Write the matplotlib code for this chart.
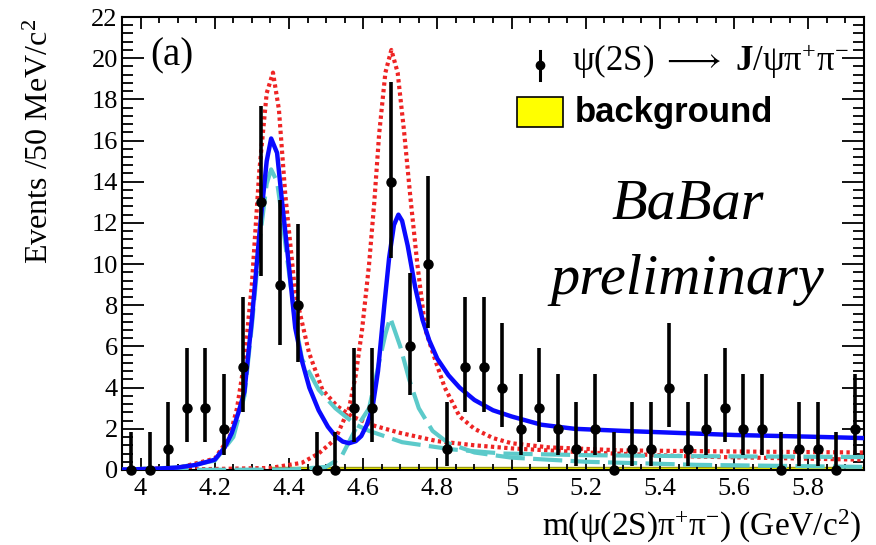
#!/usr/bin/env python3
"""Recreate the BaBar psi(2S) pi+ pi- invariant mass plot (panel a)."""

import matplotlib
matplotlib.use('Agg')
import matplotlib.pyplot as plt
import matplotlib.patches as mpatches
from matplotlib.lines import Line2D
from matplotlib.ticker import MultipleLocator, FuncFormatter

plt.rcParams['font.family'] = ['Liberation Serif', 'DejaVu Serif']
plt.rcParams['mathtext.fontset'] = 'custom'
plt.rcParams['mathtext.rm'] = 'Liberation Serif'
plt.rcParams['mathtext.it'] = 'Liberation Serif:italic'
plt.rcParams['mathtext.bf'] = 'Liberation Serif:bold'

# 50 MeV bins from 3.95 to 5.95 GeV
BIN_LO = 3.95
BIN_W = 0.05
counts = [0, 0, 1, 3, 3, 2, 5, 13, 9, 8,
          0, 0, 3, 3, 14, 6, 10, 1, 5, 5,
          4, 2, 3, 2, 1, 2, 0, 1, 1, 4,
          1, 2, 3, 2, 2, 0, 1, 1, 0, 2]
background = [0, 0, 0, 0, 0, 0, 0, 0, 0.15, 0.15,
              0.15, 0.15, 0.15, 0.15, 0.15, 0.15, 0.15, 0.15, 0.15, 0.15,
              0.15, 0.15, 0.15, 0.15, 0.15, 0.15, 0.15, 0.15, 0.15, 0.15,
              0.15, 0.15, 0.15, 0.15, 0.15, 0.15, 0.15, 0.15, 0.15, 0.15]

# 68% Poisson (Garwood) interval bounds, indexed by bin count
poisson_lo = [0.0, 0.173, 0.708, 1.367, 2.086, 2.840, 3.620, 4.419,
              5.232, 6.057, 6.891, 7.734, 8.585, 9.441, 10.30]
poisson_hi = [1.841, 3.300, 4.638, 5.918, 7.163, 8.382, 9.584, 10.77,
              11.95, 13.11, 14.27, 15.42, 16.56, 17.70, 18.83]

# total fit (blue)
fit_m = [3.95, 4.0, 4.05, 4.1, 4.15, 4.2, 4.227, 4.246, 4.264, 4.28,
         4.30, 4.322, 4.34, 4.352, 4.368, 4.381, 4.40, 4.417, 4.435, 4.455,
         4.48, 4.505, 4.525, 4.545, 4.562, 4.58, 4.595, 4.61, 4.625, 4.64,
         4.657, 4.67, 4.683, 4.695, 4.705, 4.72, 4.74, 4.76, 4.778, 4.8,
         4.83, 4.86, 4.9, 4.95, 5.0, 5.08, 5.17, 5.3, 5.45, 5.6, 5.8, 5.95]
fit_v = [0.02, 0.04, 0.07, 0.12, 0.25, 0.5, 1.1, 1.8, 2.8, 3.8,
         7.3, 11.8, 15.0, 16.1, 15.4, 13.1, 9.9, 6.9, 5.3, 4.0,
         2.9, 2.1, 1.65, 1.38, 1.3, 1.4, 1.65, 2.2, 3.0, 4.8,
         8.0, 10.3, 11.9, 12.4, 12.1, 10.9, 8.9, 7.3, 6.3, 5.4,
         4.6, 4.0, 3.4, 2.9, 2.6, 2.2, 2.0, 1.9, 1.8, 1.7, 1.62, 1.55]

# single resonance without interference (red dotted), Y(4360)
bw1_m = [3.95, 4.1, 4.2, 4.24, 4.26, 4.28, 4.30, 4.32, 4.34, 4.357,
         4.373, 4.39, 4.417, 4.454, 4.49, 4.53, 4.57, 4.63, 4.7, 4.8,
         4.9, 5.0, 5.2, 5.5, 5.95]
bw1_v = [0.02, 0.1, 0.55, 1.6, 3.0, 5.3, 9.0, 14.5, 18.3, 19.3,
         17.5, 13.4, 8.6, 5.7, 3.9, 3.1, 2.6, 2.15, 1.8, 1.4,
         1.2, 1.05, 0.85, 0.65, 0.5]

# single resonance without interference (red dotted), Y(4660)
bw2_m = [3.95, 4.2, 4.35, 4.435, 4.48, 4.525, 4.562, 4.58, 4.597, 4.616,
         4.63, 4.643, 4.66, 4.676, 4.693, 4.71, 4.727, 4.746, 4.768, 4.795,
         4.82, 4.86, 4.9, 4.95, 5.0, 5.1, 5.3, 5.6, 5.95]
bw2_v = [0.0, 0.05, 0.1, 0.35, 0.8, 1.5, 3.0, 4.6, 6.8, 10.0,
         13.0, 16.3, 19.3, 20.4, 19.3, 16.5, 13.3, 10.0, 6.8, 5.3,
         4.0, 2.6, 2.0, 1.55, 1.3, 1.1, 0.95, 0.9, 0.85]

# fit components (cyan dashed)
comp1_m = [3.95, 4.1, 4.2, 4.25, 4.28, 4.30, 4.322, 4.34, 4.352, 4.368,
           4.381, 4.40, 4.417, 4.435, 4.48, 4.525, 4.58, 4.616, 4.705, 4.84,
           4.976, 5.2, 5.5, 5.95]
comp1_v = [0.02, 0.12, 0.45, 1.6, 3.6, 7.0, 11.3, 13.9, 14.6, 14.0,
           12.3, 9.6, 7.2, 5.4, 3.9, 3.0, 2.2, 1.9, 1.35, 1.0,
           0.8, 0.72, 0.67, 0.63]
comp2_m = [3.95, 4.4, 4.5, 4.54, 4.58, 4.616, 4.645, 4.66, 4.673, 4.7,
           4.724, 4.75, 4.787, 4.83, 4.9, 5.0, 5.2, 5.5, 5.95]
comp2_v = [0.0, 0.02, 0.15, 0.6, 2.0, 3.0, 5.4, 6.6, 7.4, 6.0,
           4.4, 3.0, 1.9, 1.3, 0.85, 0.6, 0.4, 0.25, 0.15]

x_ticks_major = 0.2
x_ticks_minor = 0.05
y_ticks_major = 2
y_ticks_minor = 0.4


def fmt_mass(v, _pos):
    return f'{v:.1f}'.rstrip('0').rstrip('.')


def draw_chart():
    fig = plt.figure(figsize=(8.76, 5.45), dpi=100)
    ax = fig.add_axes([122 / 876, 75 / 545, 742 / 876, 453 / 545])
    ax.set_xlim(3.95, 5.95)
    ax.set_ylim(0, 22)

    n = len(counts)
    edges = [BIN_LO + i * BIN_W for i in range(n + 1)]
    centers = [BIN_LO + (i + 0.5) * BIN_W for i in range(n)]

    # background histogram
    ax.stairs(background, edges, fill=True, facecolor='#ffff00', zorder=1)
    ax.stairs(background, edges, color='#9a9a10', lw=1.0, zorder=1)

    dotted = (0, (0.8, 0.8))
    ax.plot(bw1_m, bw1_v, color='#ee2424', lw=3.0, linestyle=dotted, zorder=2)
    ax.plot(bw2_m, bw2_v, color='#ee2424', lw=3.0, linestyle=dotted, zorder=2)

    dashed = (0, (7, 2))
    ax.plot(comp1_m, comp1_v, color='#5ccaca', lw=3.0, linestyle=dashed, zorder=3)
    ax.plot(comp2_m, comp2_v, color='#5ccaca', lw=3.0, linestyle=dashed, zorder=3)

    ax.plot(fit_m, fit_v, color='#0a0aff', lw=3.2, zorder=4)

    # data points with Poisson errors
    err_lo = [c - poisson_lo[c] for c in counts]
    err_hi = [poisson_hi[c] - c for c in counts]
    ax.errorbar(centers, counts, yerr=[err_lo, err_hi], fmt='o', color='black',
                ms=6.5, elinewidth=2.6, capsize=0, zorder=5, clip_on=False)

    # axes styling (ROOT look)
    ax.xaxis.set_major_locator(MultipleLocator(x_ticks_major))
    ax.xaxis.set_minor_locator(MultipleLocator(x_ticks_minor))
    ax.yaxis.set_major_locator(MultipleLocator(y_ticks_major))
    ax.yaxis.set_minor_locator(MultipleLocator(y_ticks_minor))
    ax.xaxis.set_major_formatter(FuncFormatter(fmt_mass))
    ax.tick_params(which='both', direction='in', top=True, right=True,
                   width=1.3, labelsize=19, colors='black')
    ax.tick_params(axis='x', which='major', length=8.5, pad=6)
    ax.tick_params(axis='x', which='minor', length=4.5)
    ax.tick_params(axis='y', which='major', length=16, pad=3)
    ax.tick_params(axis='y', which='minor', length=8)
    for sp in ax.spines.values():
        sp.set_linewidth(1.5)

    ax.set_ylabel('Events /50 MeV/c$^{2}$', fontsize=23)
    ax.yaxis.set_label_coords(-0.11, 0.995)
    ax.yaxis.label.set_horizontalalignment('right')
    ax.yaxis.label.set_verticalalignment('center')
    ax.set_xlabel(r'$\mathrm{m(\psi(2S)\pi^{+}\pi^{-})\ (GeV/c^{2})}$',
                  fontsize=24)
    ax.xaxis.set_label_coords(0.996, -0.125)
    ax.xaxis.label.set_horizontalalignment('right')
    ax.xaxis.label.set_verticalalignment('center')

    ax.text(0.038, 0.913, '(a)', fontsize=28, transform=ax.transAxes,
            ha='left', va='center')

    # legend drawn by hand
    lx, ly = 0.563, 0.893
    ax.add_line(Line2D([lx, lx], [ly - 0.032, ly + 0.032], color='black',
                       lw=2.2, transform=ax.transAxes))
    ax.add_line(Line2D([lx], [ly], marker='o', ms=6, color='black',
                       transform=ax.transAxes))
    ax.text(0.606, 0.902,
            r'$\mathrm{\psi(2S)}\ \longrightarrow\ \mathbf{J}\mathrm{/\psi\pi^{+}\pi^{-}}$',
            fontsize=25, transform=ax.transAxes, ha='left', va='center')
    box = mpatches.Rectangle((0.532, 0.757), 0.062, 0.066, facecolor='#ffff00',
                             edgecolor='black', lw=1.2, transform=ax.transAxes)
    ax.add_patch(box)
    ax.text(0.61, 0.79, 'background', fontsize=25, fontweight='bold',
            family=['Liberation Sans', 'DejaVu Sans'],
            transform=ax.transAxes, ha='left', va='center')

    ax.text(0.762, 0.585, 'BaBar', fontsize=42, style='italic',
            transform=ax.transAxes, ha='center', va='center')
    ax.text(0.762, 0.42, 'preliminary', fontsize=42, style='italic',
            transform=ax.transAxes, ha='center', va='center')

    fig.savefig('out.png', dpi=100, facecolor='white')
    plt.close(fig)


def main():
    draw_chart()


if __name__ == '__main__':
    main()
